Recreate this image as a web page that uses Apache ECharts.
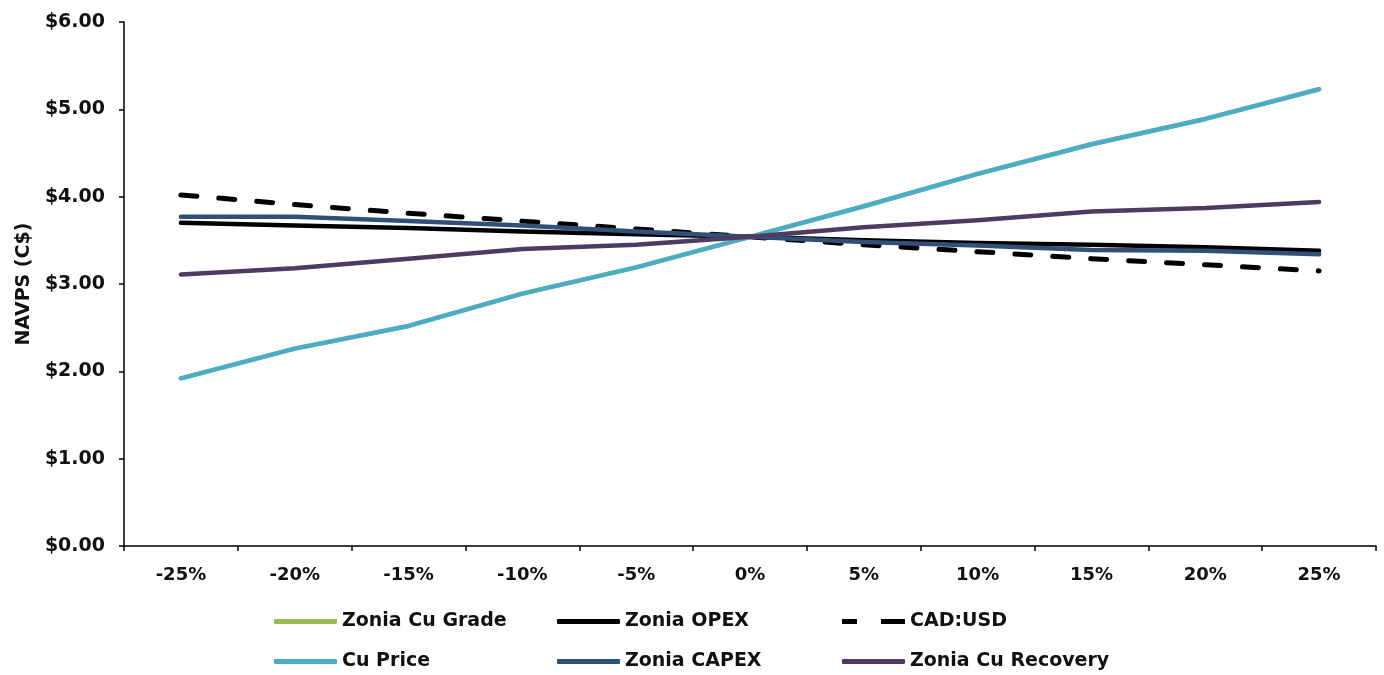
<!DOCTYPE html>
<html>
<head>
<meta charset="utf-8">
<script src="https://cdn.jsdelivr.net/npm/echarts@6/dist/echarts.min.js"></script>
<style>
  html, body { margin: 0; padding: 0; background: #fff; }
  #chart { width: 1384px; height: 675px; }
</style>
</head>
<body>
<div id="chart"></div>
<script>
// Sensitivity categories (change from base case)
const categories = ['-25%', '-20%', '-15%', '-10%', '-5%', '0%', '5%', '10%', '15%', '20%', '25%'];

// NAVPS (C$) for each sensitivity
const zoniaCuGrade    = [1.92, 2.26, 2.52, 2.89, 3.19, 3.54, 3.89, 4.26, 4.60, 4.89, 5.23];
const zoniaOpex       = [3.70, 3.67, 3.64, 3.60, 3.57, 3.54, 3.50, 3.47, 3.45, 3.42, 3.38];
const cadUsd          = [4.02, 3.91, 3.81, 3.72, 3.63, 3.54, 3.45, 3.37, 3.29, 3.22, 3.15];
const cuPrice         = [1.92, 2.26, 2.52, 2.89, 3.19, 3.54, 3.89, 4.26, 4.60, 4.89, 5.23];
const zoniaCapex      = [3.77, 3.77, 3.72, 3.67, 3.60, 3.54, 3.48, 3.44, 3.39, 3.38, 3.34];
const zoniaCuRecovery = [3.11, 3.18, 3.29, 3.40, 3.45, 3.54, 3.65, 3.73, 3.83, 3.87, 3.94];

const yTicks = [0, 1, 2, 3, 4, 5, 6];

const FONT = 'DejaVu Sans';
const TEXT = '#111111';

const chart = echarts.init(document.getElementById('chart'), null, { renderer: 'canvas' });

function line(name, data, color, extra) {
  return Object.assign({
    name: name,
    type: 'line',
    data: data,
    symbol: 'none',
    smooth: false,
    lineStyle: { color: color, width: 4.5, cap: 'round', join: 'round' },
    itemStyle: { color: color },
    emphasis: { disabled: true }
  }, extra || {});
}

// one legend entry per slot, laid out as a 3 x 2 grid
function legendItem(entry, left, top) {
  return {
    left: left,
    top: top,
    padding: 0,
    itemWidth: 63,
    itemHeight: 5,
    itemGap: 0,
    icon: 'roundRect',
    selectedMode: false,
    data: [entry],
    textStyle: { fontFamily: FONT, fontWeight: 'bold', fontSize: 19, color: TEXT }
  };
}

// two short dashes, same 63 x 5 box as the solid swatches
const dashIcon = 'path://M0,0 H15 V5 H0 Z M39,0 H63 V5 H39 Z';

const option = {
  backgroundColor: '#ffffff',
  animation: false,
  grid: { left: 124, right: 8, top: 22, bottom: 129, containLabel: false },
  legend: [
    legendItem('Zonia Cu Grade', 274, 612),
    legendItem('Zonia OPEX', 557, 612),
    legendItem({ name: 'CAD:USD', icon: dashIcon }, 842, 612),
    legendItem('Cu Price', 274, 652),
    legendItem('Zonia CAPEX', 557, 652),
    legendItem('Zonia Cu Recovery', 842, 652)
  ],
  xAxis: {
    type: 'category',
    data: categories,
    boundaryGap: true,
    axisLine: { lineStyle: { color: '#000', width: 1.5 } },
    axisTick: { show: true, length: 5, alignWithLabel: false, lineStyle: { color: '#000', width: 1.5 } },
    axisLabel: { fontFamily: FONT, fontWeight: 'bold', fontSize: 18, color: TEXT, margin: 20 },
    splitLine: { show: false }
  },
  yAxis: {
    type: 'value',
    min: yTicks[0],
    max: yTicks[yTicks.length - 1],
    interval: 1,
    name: 'NAVPS (C$)',
    nameLocation: 'middle',
    nameGap: 90,
    nameRotate: 90,
    nameTextStyle: { fontFamily: FONT, fontWeight: 'bold', fontSize: 19, color: TEXT },
    axisLine: { show: true, lineStyle: { color: '#000', width: 1.5 } },
    axisTick: { show: true, length: 5, lineStyle: { color: '#000', width: 1.5 } },
    axisLabel: {
      fontFamily: FONT, fontWeight: 'bold', fontSize: 19, color: TEXT, margin: 19,
      formatter: v => '$' + v.toFixed(2)
    },
    splitLine: { show: false }
  },
  series: [
    line('Zonia Cu Grade', zoniaCuGrade, '#9BBB59'),
    line('Zonia OPEX', zoniaOpex, '#000000'),
    line('CAD:USD', cadUsd, '#000000', {
      lineStyle: { color: '#000000', width: 5, type: [16, 22], cap: 'round', join: 'round' }
    }),
    line('Cu Price', cuPrice, '#4BACC6'),
    line('Zonia CAPEX', zoniaCapex, '#2F5077'),
    line('Zonia Cu Recovery', zoniaCuRecovery, '#4E3B63')
  ]
};

chart.setOption(option);
</script>
</body>
</html>
